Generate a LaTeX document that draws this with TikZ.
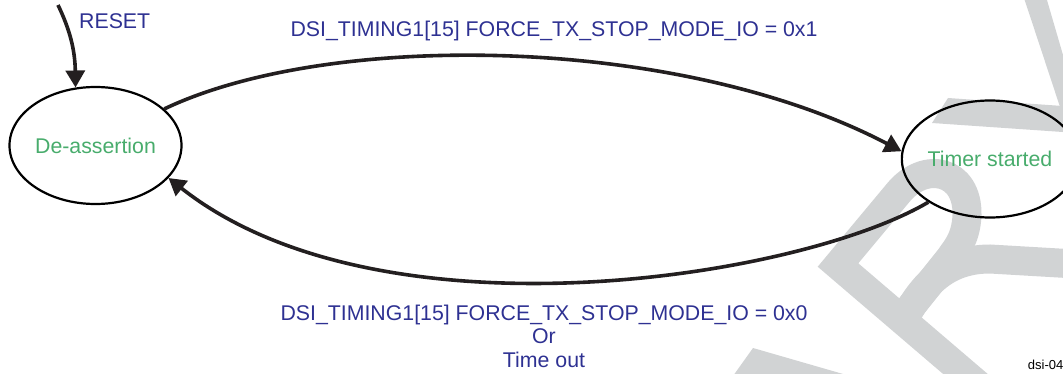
\documentclass[tikz,border=0pt]{standalone}
\usepackage{fontspec}
\setmainfont{Liberation Sans}
\usepackage{xcolor}
\usetikzlibrary{arrows.meta,shapes.geometric}

\definecolor{labelblue}{RGB}{46,49,146}
\definecolor{stategreen}{RGB}{72,172,108}
\definecolor{linedark}{RGB}{35,31,32}
\definecolor{markgrey}{RGB}{209,211,212}

\begin{document}
\begin{tikzpicture}[x=1pt, y=1pt, every node/.style={font=\fontsize{21.3}{23.3}\selectfont},
  state/.style={ellipse, draw=black, line width=2.2pt, minimum width=172pt, minimum height=117pt, inner sep=0pt, text=stategreen},
  trans/.style={draw=linedark, line width=3.6pt, -{Triangle[length=17pt,width=19pt]}},
  cond/.style={text=labelblue, inner sep=0pt}]
  \useasboundingbox (0,0) rectangle (1063,373);
  \begin{scope}
    \clip (0,0) rectangle (1063,373);
    \draw[markgrey, line width=29pt, line join=miter] (990,-22) -- (838,108) -- (898,180)
      .. controls (925,213) and (968,203) .. (967,158)
      .. controls (966,133) and (955,123) .. (950,115) -- (902,55);
    \draw[markgrey, line width=29pt] (905,55) .. controls (925,93) and (950,114) .. (990,114) -- (1110,107);
    \fill[markgrey] (753,25) -- (850,-3) -- (733,-3) -- cycle;
    \fill[markgrey] (948,275) -- (1070,266.5) -- (1070,240.5) -- (932,250) -- cycle;
    \fill[markgrey] (1023,378) -- (1045.5,378) -- (1070,294) -- (1070,266.5) -- (1059.7,267) -- cycle;
  \end{scope}

  \node[state] (deassert) at (95.5,227.5) {De-assertion};
  \node[state] (timer) at (990,214) {Timer started};

  \coordinate (reset) at (58,368);
  \draw[trans] (reset) .. controls (70,343) and (75,323) .. (deassert.109);
  \node[cond, anchor=base west] (resetlbl) at (79,344) {RESET};

  \draw[trans] (deassert.28) .. controls (330,343) and (680,338) .. (timer.175);
  \node[cond, anchor=base] (forceon) at (554,336) {DSI\_TIMING1[15] FORCE\_TX\_STOP\_MODE\_IO = 0x1};

  \draw[trans] (timer.215) .. controls (800,95) and (380,28) .. (deassert.336);
  \node[cond, anchor=base, align=center] (forceoff) at (544,6) {DSI\_TIMING1[15] FORCE\_TX\_STOP\_MODE\_IO = 0x0\\Or\\Time out};

  \node[anchor=base east, inner sep=0pt, font=\fontsize{13}{15}\selectfont] (figid) at (1063.5,4) {dsi-04};
\end{tikzpicture}
\end{document}
